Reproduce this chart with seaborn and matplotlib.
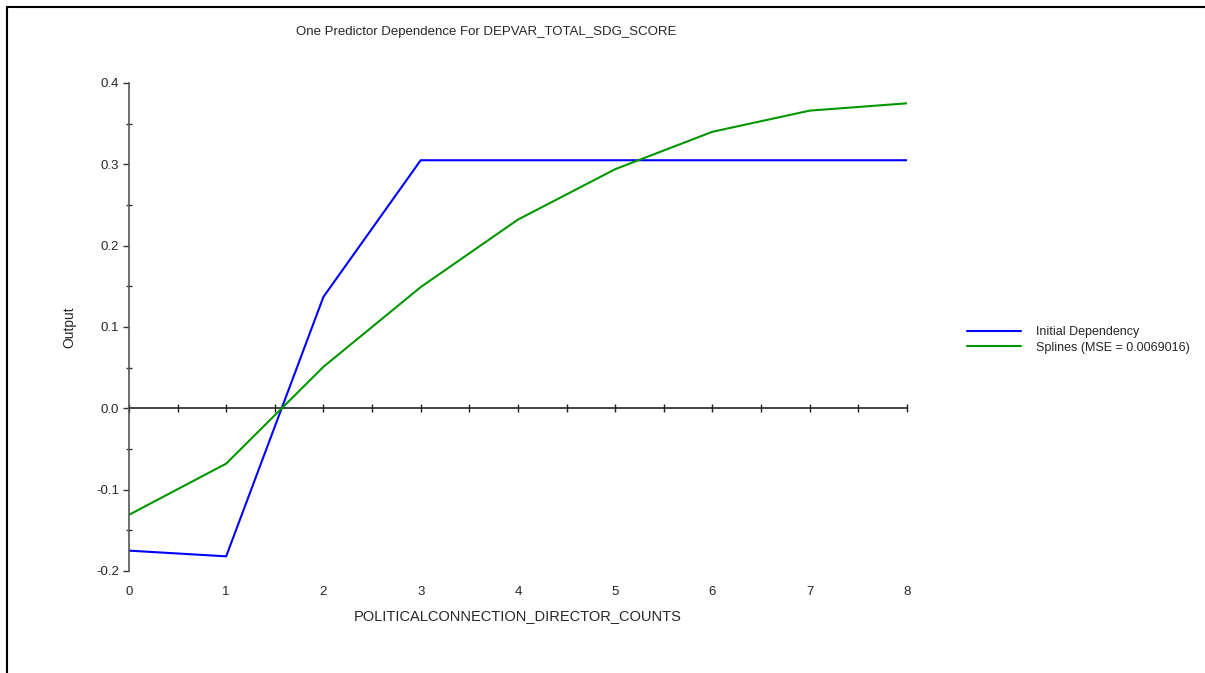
import numpy as np
import pandas as pd
import matplotlib.pyplot as plt
from matplotlib.lines import Line2D
from matplotlib.ticker import MultipleLocator, FormatStrFormatter
import seaborn as sns

# values
x_counts = [0, 1, 2, 3, 4, 5, 6, 7, 8]
initial_dependency = [-0.175, -0.182, 0.137, 0.305, 0.305, 0.305, 0.305, 0.305, 0.305]
splines = [-0.131, -0.068, 0.051, 0.149, 0.232, 0.294, 0.340, 0.366, 0.375]
series_names = ['Initial Dependency', 'Splines (MSE = 0.0069016)']
colors = {series_names[0]: '#0000ff', series_names[1]: '#009600'}

df = pd.DataFrame({
    'x': x_counts * 2,
    'Output': initial_dependency + splines,
    'series': [series_names[0]] * len(x_counts) + [series_names[1]] * len(x_counts),
})

sns.set_style('white')
plt.rcParams['font.family'] = ['Liberation Sans', 'DejaVu Sans']
plt.rcParams['axes.unicode_minus'] = False

fig = plt.figure(figsize=(12.05, 6.73), dpi=100)
ax = fig.add_axes([0.107, 0.1516, 0.6456, 0.7251])

sns.lineplot(data=df, x='x', y='Output', hue='series', palette=colors,
             hue_order=series_names, linewidth=1.5, ax=ax)

ax.set_xlim(0, 8)
ax.set_ylim(-0.2, 0.4)
ax.yaxis.set_major_locator(MultipleLocator(0.1))
ax.yaxis.set_minor_locator(MultipleLocator(0.05))
ax.yaxis.set_major_formatter(FormatStrFormatter('%.1f'))
ax.xaxis.set_major_locator(MultipleLocator(1))

for side in ['top', 'right', 'bottom']:
    ax.spines[side].set_visible(False)
ax.spines['left'].set_color('#555555')
ax.spines['left'].set_linewidth(1.2)

ax.tick_params(axis='y', which='major', direction='out', length=4, width=1,
               color='#333333', labelsize=9.5, pad=3, left=True)
ax.tick_params(axis='y', which='minor', direction='inout', length=5, width=1,
               color='#333333', left=True)
ax.tick_params(axis='x', length=0, labelsize=9.5, pad=11)

# zero line with crossing ticks every 0.5
zero_axis = ax.secondary_xaxis(1 / 3)
zero_axis.xaxis.set_major_locator(MultipleLocator(0.5))
zero_axis.tick_params(direction='inout', length=6, width=1, color='#222222',
                      labelbottom=False, bottom=True)
zero_axis.spines['bottom'].set_color('#222222')
zero_axis.spines['bottom'].set_linewidth(1.2)

ax.set_xlabel('POLITICALCONNECTION_DIRECTOR_COUNTS', fontsize=10.5, labelpad=8)
ax.set_ylabel('Output', fontsize=10, labelpad=14)

fig.text(0.4037, 0.953, 'One Predictor Dependence For DEPVAR_TOTAL_SDG_SCORE',
         ha='center', va='center', fontsize=9.5)

handles, labels = ax.get_legend_handles_labels()
ax.get_legend().remove()
fig.legend(handles, labels, loc='center left', bbox_to_anchor=(0.793, 0.4948),
           frameon=False, fontsize=9, handlelength=4.3, handletextpad=1.2,
           labelspacing=0.25)

# outer frame (left and top edges)
fig.add_artist(Line2D([7 / 1205, 7 / 1205], [0, 1 - 7 / 673],
                      transform=fig.transFigure, color='black', linewidth=1.5))
fig.add_artist(Line2D([7 / 1205, 1], [1 - 7 / 673, 1 - 7 / 673],
                      transform=fig.transFigure, color='black', linewidth=1.5))

plt.savefig('out.png', dpi=100)
plt.close()
